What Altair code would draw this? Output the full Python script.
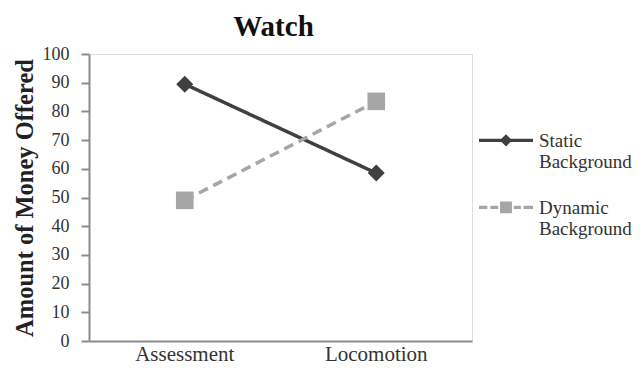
import altair as alt
import pandas as pd

categories = ["Assessment", "Locomotion"]
series_names = ["Static Background", "Dynamic Background"]
static_values = [89.5, 58.5]
dynamic_values = [49.0, 83.5]
y_ticks = [0, 10, 20, 30, 40, 50, 60, 70, 80, 90, 100]

rows = []
for cat, v in zip(categories, static_values):
    rows.append({"Task": cat, "Series": series_names[0], "Value": v})
for cat, v in zip(categories, dynamic_values):
    rows.append({"Task": cat, "Series": series_names[1], "Value": v})
df = pd.DataFrame(rows)

colors = ["#404040", "#a6a6a6"]
FONT = "Liberation Serif"

# legend glyphs: line segment(s) with a marker in the middle (all filled shapes)
sh = 0.31  # vertical shift so the glyph lines up with the first label line
t = 0.06
def rect(x0, x1):
    return f"M{x0},{sh - t}H{x1}V{sh + t}H{x0}Z"
diamond_path = rect(-1, 1) + f"M0,{sh - 0.23}L0.23,{sh}L0,{sh + 0.23}L-0.23,{sh}Z"
square_path = (
    rect(-1, -0.69) + rect(-0.58, -0.29) + rect(0.29, 0.55) + rect(0.65, 1)
    + f"M-0.22,{sh - 0.22}H0.22V{sh + 0.22}H-0.22Z"
)

x_enc = alt.X(
    "Task:N",
    sort=categories,
    scale=alt.Scale(type="band", paddingInner=0, paddingOuter=0),
    axis=alt.Axis(
        title=None, labelAngle=0, ticks=False, labelFontSize=21,
        labelFont=FONT, labelColor="#333333", labelPadding=2,
        domainColor="#8c8c8c", domainWidth=2,
    ),
)
y_enc = alt.Y(
    "Value:Q",
    scale=alt.Scale(domain=[0, 100], nice=False),
    axis=alt.Axis(
        title="Amount of Money Offered", values=y_ticks, grid=False,
        labelFontSize=18, labelFont=FONT, labelColor="#333333",
        tickSize=8, tickColor="#8c8c8c", tickWidth=2, labelPadding=12,
        domainColor="#8c8c8c", domainWidth=2,
        titleFont=FONT, titleFontSize=24.5, titleFontWeight="bold",
        titleColor="#222222", titlePadding=5,
    ),
)

color_scale = alt.Scale(domain=series_names, range=colors)

legend = alt.Legend(
    title=None, orient="none", legendX=390, legendY=51,
    symbolSize=2916, symbolOpacity=1, symbolStrokeWidth=0,
    labelFont=FONT, labelFontSize=19, labelColor="#333333", labelLimit=300,
    labelOffset=6, labelExpr="split(datum.label, ' ')",
    labelBaseline="top", rowPadding=0,
)

def series_layer(name, color, dash, shape, size):
    sub = alt.Chart(df).transform_filter(alt.datum.Series == name)
    line = sub.mark_line(strokeWidth=3.5, color=color, strokeDash=dash).encode(x=x_enc, y=y_enc)
    pts = sub.mark_point(filled=True, opacity=1, size=size, shape=shape, color=color).encode(x=x_enc, y=y_enc)
    return [line, pts]

layers = []
layers += series_layer(series_names[0], colors[0], [1, 0], "diamond", 289)
layers += series_layer(series_names[1], colors[1], [10, 6], "square", 310)

legend_layer = alt.Chart(df).mark_point(filled=True, opacity=0).encode(
    x=x_enc,
    y=y_enc,
    color=alt.Color("Series:N", scale=color_scale, legend=legend, sort=series_names),
    shape=alt.Shape(
        "Series:N",
        scale=alt.Scale(domain=series_names, range=[diamond_path, square_path]),
        legend=legend, sort=series_names,
    ),
)

chart = (
    alt.layer(*layers, legend_layer)
    .properties(
        width=383, height=287,
        title=alt.TitleParams(
            "Watch", font=FONT, fontSize=29, fontWeight="bold",
            color="#111111", anchor="middle", dx=-7, offset=3,
        ),
        autosize=alt.AutoSizeParams(type="none"),
        padding={"left": 81, "top": 46, "right": 164, "bottom": 25},
    )
    .configure_view(stroke=None)
    .configure(background="white")
)

chart.save("out.html", embed_options={"renderer": "svg", "actions": False})
